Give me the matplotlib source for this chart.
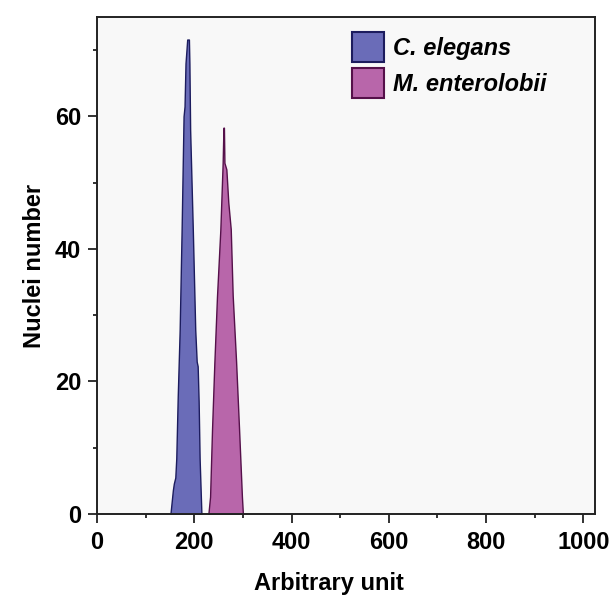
import matplotlib
matplotlib.use("Agg")
import matplotlib.pyplot as plt
from matplotlib.patches import Patch
from matplotlib.ticker import MultipleLocator

# C. elegans histogram outline (arbitrary unit, nuclei number)
ce_x = [151, 156, 158, 161, 163, 166, 170, 174, 178, 180, 182, 185.5, 189, 190, 191.5, 197, 202, 205, 207, 209, 211, 214.7]
ce_y = [0, 3.6, 4.6, 5.5, 8.4, 17.7, 27.8, 42.9, 60, 61.5, 68, 71.6, 71.6, 68, 58, 42.9, 27.8, 23, 22.3, 17, 8.4, 0]

# M. enterolobii histogram outline
me_x = [229, 232.5, 236.5, 241.3, 246.7, 253.6, 258.4, 260, 261, 262, 266, 270, 275, 279, 286, 292, 298, 300]
me_y = [0, 2.6, 12.7, 22.8, 32.8, 42.9, 53, 58.3, 58.3, 53, 52, 47, 43, 33, 23, 13, 2.6, 0]

labels = ["C. elegans", "M. enterolobii"]
fill_colors = ["#6a6cb8", "#b866aa"]
edge_colors = ["#1c1c5e", "#55104a"]

plt.rcParams['font.family'] = ['Liberation Sans', 'DejaVu Sans']

fig = plt.figure(figsize=(6.13, 5.96), dpi=100)
ax = fig.add_axes([97/613, 82/596, (595-97)/613, (514-17)/596])
ax.set_facecolor("#f8f8f8")

for xs, ys, fc, ec in [(ce_x, ce_y, fill_colors[0], edge_colors[0]),
                       (me_x, me_y, fill_colors[1], edge_colors[1])]:
    ax.fill_between(xs, ys, 0, facecolor=fc, edgecolor=ec, linewidth=1.0, zorder=2)

ax.set_xlim(0, 1024)
ax.set_ylim(0, 75)
ax.xaxis.set_major_locator(MultipleLocator(200))
ax.xaxis.set_minor_locator(MultipleLocator(100))
ax.yaxis.set_major_locator(MultipleLocator(20))
ax.yaxis.set_minor_locator(MultipleLocator(10))

for s in ax.spines.values():
    s.set_linewidth(1.4)
    s.set_color("#222222")
ax.tick_params(which='major', direction='out', length=6.5, width=1.3, labelsize=17, color="#222222")
ax.tick_params(which='minor', direction='out', length=3, width=1.3, color="#222222")
ax.tick_params(axis='x', which='major', pad=6)
ax.tick_params(axis='y', which='major', pad=5)
for lab in ax.get_xticklabels() + ax.get_yticklabels():
    lab.set_fontweight('bold')

ax.set_xlabel("Arbitrary unit", fontsize=17, fontweight='bold')
ax.xaxis.set_label_coords((329-97)/498, -(590-514)/497, transform=ax.transAxes)
ax.xaxis.label.set_va('baseline')
ax.set_ylabel("Nuclei number", fontsize=17, fontweight='bold', labelpad=6)

handles = [Patch(facecolor=fill_colors[i], edgecolor=edge_colors[i], linewidth=1.5, label=labels[i]) for i in range(2)]
ax.legend(handles=handles, loc='upper left', bbox_to_anchor=(0.512, 0.97), frameon=False,
          borderpad=0, borderaxespad=0, handlelength=1.35, handleheight=1.6,
          handletextpad=0.4, labelspacing=0.25,
          prop={'size': 17, 'weight': 'bold', 'style': 'italic'})

fig.savefig("out.png", dpi=100, facecolor="white")
